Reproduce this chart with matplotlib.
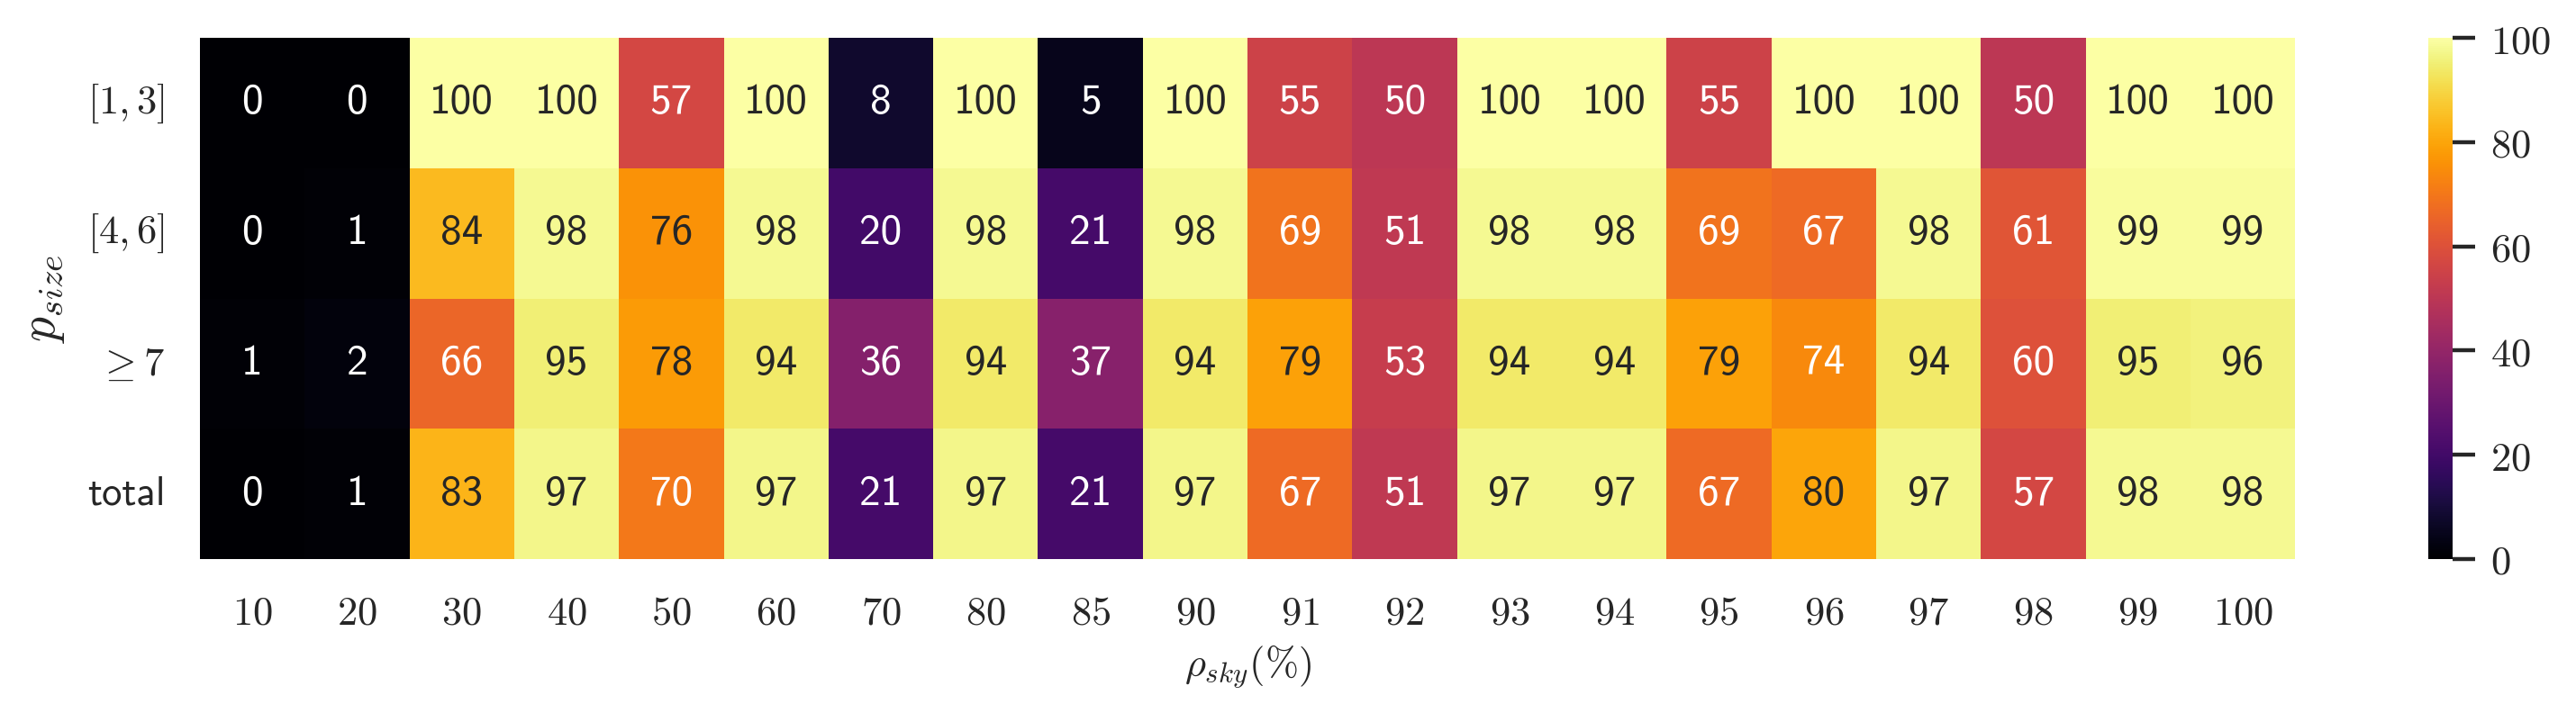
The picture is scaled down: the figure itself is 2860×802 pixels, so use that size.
import numpy as np
import pandas as pd
import matplotlib
matplotlib.use("Agg")
import matplotlib.pyplot as plt
import seaborn as sns

sns.set_theme(style="white")
plt.rcParams['mathtext.fontset'] = 'cm'

# x categories (rho_sky in %) and y categories (p_size)
rho_sky = [10, 20, 30, 40, 50, 60, 70, 80, 85, 90, 91, 92, 93, 94, 95, 96, 97, 98, 99, 100]
p_size = [r'$[1,3]$', r'$[4,6]$', r'$\geq 7$', 'total']

row_1_3 = [0, 0, 100, 100, 57, 100, 8, 100, 5, 100, 55, 50, 100, 100, 55, 100, 100, 50, 100, 100]
row_4_6 = [0, 1, 84, 98, 76, 98, 20, 98, 21, 98, 69, 51, 98, 98, 69, 67, 98, 61, 99, 99]
row_ge7 = [1, 2, 66, 95, 78, 94, 36, 94, 37, 94, 79, 53, 94, 94, 79, 74, 94, 60, 95, 96]
row_total = [0, 1, 83, 97, 70, 97, 21, 97, 21, 97, 67, 51, 97, 97, 67, 80, 97, 57, 98, 98]

df = pd.DataFrame([row_1_3, row_4_6, row_ge7, row_total],
                  index=p_size, columns=[f'${v}$' for v in rho_sky])

fig = plt.figure(figsize=(14.3, 4.01), dpi=200)
ax = fig.add_axes([0.0776, 0.2257, 0.8134, 0.7219])
cax = fig.add_axes([0.9427, 0.2257, 0.0094, 0.7219])

sns.heatmap(df, ax=ax, cbar_ax=cax, cmap='inferno', vmin=0, vmax=100,
            annot=True, fmt='d',
            annot_kws={'fontfamily': 'cmss10', 'fontsize': 17})

ax.tick_params(axis='both', length=0, pad=14, labelsize=16, colors='.15')
ax.set_yticklabels(ax.get_yticklabels(), rotation=0)
ax.set_xticklabels(ax.get_xticklabels(), rotation=0)
for lab in ax.get_yticklabels():
    if lab.get_text() == 'total':
        lab.set_fontfamily('cmss10')
        lab.set_fontsize(16)

ax.set_xlabel(r'$\rho_{sky}(\%)$', fontsize=16, color='.15', labelpad=4)
ax.set_ylabel(r'$p_{size}$', fontsize=20, color='.15', labelpad=8)

cax.tick_params(axis='y', length=9, width=1.6, pad=6, labelsize=16,
                colors='.15', right=True)
cax.set_yticks([0, 20, 40, 60, 80, 100])
cax.set_yticklabels([f'${v}$' for v in [0, 20, 40, 60, 80, 100]])
for s in cax.spines.values():
    s.set_visible(False)

fig.savefig('out.png', dpi=200)
